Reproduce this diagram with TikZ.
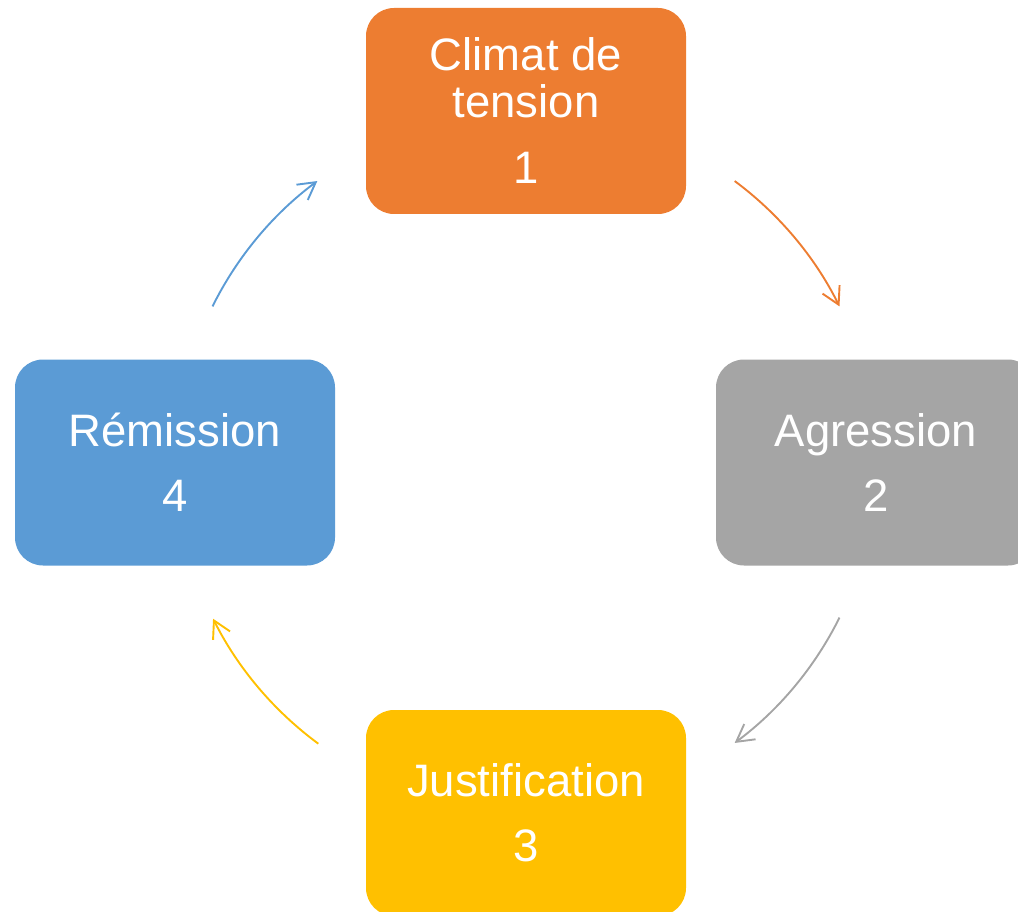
\documentclass[tikz,border=0pt]{standalone}
\usepackage{fontspec}
\setmainfont{Liberation Sans}
\usetikzlibrary{arrows.meta,calc}
\definecolor{cOrange}{HTML}{ED7D31}
\definecolor{cGray}{HTML}{A5A5A5}
\definecolor{cGold}{HTML}{FFC000}
\definecolor{cBlue}{HTML}{5B9BD5}
\tikzset{
  stagebox/.style={rectangle, rounded corners=28pt, minimum width=320pt, minimum height=206pt,
    inner sep=0pt, text=white, align=center, font=\fontsize{45.5}{47}\selectfont},
  cyclearrow/.style={line width=1.9pt, -{Straight Barb[length=17pt,width=19pt,line width=1.9pt]}}
}
\begin{document}
\begin{tikzpicture}[x=1pt,y=1pt]
\useasboundingbox (0,0) rectangle (1018,-912);
\clip (0,0) rectangle (1018,-912);
\coordinate (c) at (526,-462);
\node[stagebox, fill=cOrange] (s1) at (526,-111) {Climat de\\tension\\[19pt]1};
\node[stagebox, fill=cGray] (s2) at (876,-462.5) {Agression\\[18pt]2};
\node[stagebox, fill=cGold] (s3) at (526,-813) {Justification\\[18pt]3};
\node[stagebox, fill=cBlue] (s4) at (175,-462.5) {Rémission\\[18pt]4};
\coordinate (a1) at ($(c)+(53.4:350)$);
\coordinate (a2) at ($(c)+(-26.4:350)$);
\coordinate (a3) at ($(c)+(-126.4:350)$);
\coordinate (a4) at ($(c)+(153.6:350)$);
\draw[cyclearrow, draw=cOrange] (a1) arc[start angle=53.4, end angle=26.4, radius=350];
\draw[cyclearrow, draw=cGray] (a2) arc[start angle=-26.4, end angle=-53.4, radius=350];
\draw[cyclearrow, draw=cGold] (a3) arc[start angle=-126.4, end angle=-153.4, radius=350];
\draw[cyclearrow, draw=cBlue] (a4) arc[start angle=153.6, end angle=126.6, radius=350];
\end{tikzpicture}
\end{document}
